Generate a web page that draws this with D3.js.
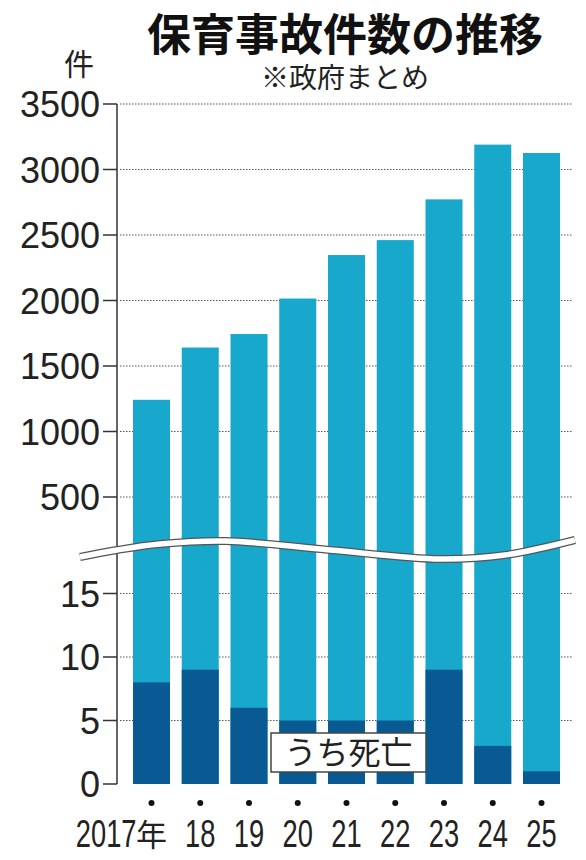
<!DOCTYPE html>
<html>
<head>
<meta charset="utf-8">
<script src="https://cdn.jsdelivr.net/npm/d3@7"></script>
<style>
body { margin: 0; background: #fff; }
svg { display: block; }
</style>
</head>
<body>
<svg id="chart"></svg>
<script>
// data
var years = ["2017", "18", "19", "20", "21", "22", "23", "24", "25"];
var accidents = [1242, 1641, 1744, 2015, 2347, 2461, 2772, 3190, 3126];
var deaths = [8, 9, 6, 5, 5, 5, 9, 3, 1];
var upperTicks = [500, 1000, 1500, 2000, 2500, 3000, 3500];
var lowerTicks = [0, 5, 10, 15];

var width = 586;
var height = 860;
var lightBlue = "#17a8cb";
var darkBlue = "#095a93";
var numFont = "'Liberation Sans', Arial, sans-serif";
var jpFont = "'Noto Sans CJK JP', sans-serif";

var svg = d3.select("#chart")
    .attr("width", width)
    .attr("height", height);

var axisX = 117;
var xScale = d3.scaleBand()
    .domain(years)
    .range([121, 572])
    .paddingInner(0.241)
    .paddingOuter(0.246);

// two stacked scales with a break between them
var yUpper = d3.scaleLinear()
    .domain([500, 3500])
    .range([497, 104]);
var yLower = d3.scaleLinear()
    .domain([0, 15])
    .range([784, 593.5]);

// title
svg.append("text")
    .attr("x", 345)
    .attr("y", 51)
    .attr("text-anchor", "middle")
    .attr("font-family", jpFont)
    .attr("font-weight", "bold")
    .attr("font-size", 44)
    .attr("fill", "#111")
    .text("保育事故件数の推移");
svg.append("text")
    .attr("x", 345)
    .attr("y", 88)
    .attr("text-anchor", "middle")
    .attr("font-family", jpFont)
    .attr("font-size", 28)
    .attr("fill", "#222")
    .text("※政府まとめ");
svg.append("text")
    .attr("x", 79)
    .attr("y", 75)
    .attr("text-anchor", "middle")
    .attr("font-family", jpFont)
    .attr("font-size", 30)
    .attr("fill", "#222")
    .text("件");

// dotted grid lines
var gridTo = 572;
var drawGrid = function(ticks, scale)
{
    svg.append("g")
        .selectAll("line")
        .data(ticks.filter(function(t){ return t != 0; }))
        .enter()
        .append("line")
        .attr("x1", axisX + 3)
        .attr("x2", gridTo)
        .attr("y1", function(t){ return scale(t); })
        .attr("y2", function(t){ return scale(t); })
        .attr("stroke", "#555")
        .attr("stroke-width", 1)
        .attr("stroke-dasharray", "1.5,1.5");
}
drawGrid(upperTicks, yUpper);
drawGrid(lowerTicks, yLower);

// bars
svg.append("g")
    .selectAll("rect")
    .data(years)
    .enter()
    .append("rect")
    .attr("x", function(y){ return xScale(y); })
    .attr("width", xScale.bandwidth())
    .attr("y", function(y, i){ return yUpper(accidents[i]); })
    .attr("height", function(y, i){ return yLower(0) - yUpper(accidents[i]); })
    .attr("fill", lightBlue);

svg.append("g")
    .selectAll("rect")
    .data(years)
    .enter()
    .append("rect")
    .attr("x", function(y){ return xScale(y); })
    .attr("width", xScale.bandwidth())
    .attr("y", function(y, i){ return yLower(deaths[i]); })
    .attr("height", function(y, i){ return yLower(0) - yLower(deaths[i]); })
    .attr("fill", darkBlue);

// y axis, drawn by hand to get the ┐ and ┘ ends
var yAxis = svg.append("g")
    .attr("stroke", "#333")
    .attr("stroke-width", 1.5);
yAxis.append("line")
    .attr("x1", axisX).attr("x2", axisX)
    .attr("y1", yUpper(3500)).attr("y2", yLower(0));

var drawTicks = function(ticks, scale)
{
    yAxis.selectAll(null)
        .data(ticks)
        .enter()
        .append("line")
        .attr("x1", 103)
        .attr("x2", axisX)
        .attr("y1", function(t){ return scale(t); })
        .attr("y2", function(t){ return scale(t); });
    svg.append("g")
        .selectAll("text")
        .data(ticks)
        .enter()
        .append("text")
        .attr("x", 100)
        .attr("y", function(t){ return scale(t) + 13; })
        .attr("text-anchor", "end")
        .attr("font-family", numFont)
        .attr("font-size", 36)
        .attr("fill", "#222")
        .text(function(t){ return t; });
}
drawTicks(upperTicks, yUpper);
drawTicks(lowerTicks, yLower);

// wavy break
var wavePoints = [[80, 557], [117, 550], [160, 544], [225, 541], [330, 550], [440, 559], [505, 555], [575, 540]];
var wave = d3.line().curve(d3.curveCatmullRom);
svg.append("path")
    .attr("d", wave(wavePoints))
    .attr("fill", "none")
    .attr("stroke", "#555")
    .attr("stroke-width", 8);
svg.append("path")
    .attr("d", wave(wavePoints))
    .attr("fill", "none")
    .attr("stroke", "#fff")
    .attr("stroke-width", 5.5);

// legend label
svg.append("rect")
    .attr("x", 271)
    .attr("y", 733)
    .attr("width", 155)
    .attr("height", 39)
    .attr("fill", "#fff")
    .attr("stroke", "#444")
    .attr("stroke-width", 1.5);
svg.append("text")
    .attr("x", 348.5)
    .attr("y", 764)
    .attr("text-anchor", "middle")
    .attr("font-family", jpFont)
    .attr("font-size", 32)
    .attr("fill", "#222")
    .text("うち死亡");

// x labels with dots
var xLabels = svg.append("g");
xLabels.selectAll("circle")
    .data(years)
    .enter()
    .append("circle")
    .attr("cx", function(y){ return xScale(y) + xScale.bandwidth() / 2; })
    .attr("cy", 803)
    .attr("r", 3)
    .attr("fill", "#111");

xLabels.selectAll("text.year")
    .data(years)
    .enter()
    .append("text")
    .attr("class", "year")
    .attr("transform", function(y, i)
    {
        var cx = xScale(y) + xScale.bandwidth() / 2;
        if (i == 0) cx = cx - 15;
        return "translate(" + cx + ",847) scale(0.7,1)";
    })
    .attr("text-anchor", function(y, i){ return i == 0 ? "end" : "middle"; })
    .attr("font-family", numFont)
    .attr("font-size", 39)
    .attr("fill", "#222")
    .text(function(y){ return y; });

xLabels.append("text")
    .attr("x", xScale(years[0]) + xScale.bandwidth() / 2)
    .attr("y", 846)
    .attr("text-anchor", "middle")
    .attr("font-family", jpFont)
    .attr("font-size", 31)
    .attr("fill", "#222")
    .text("年");
</script>
</body>
</html>
